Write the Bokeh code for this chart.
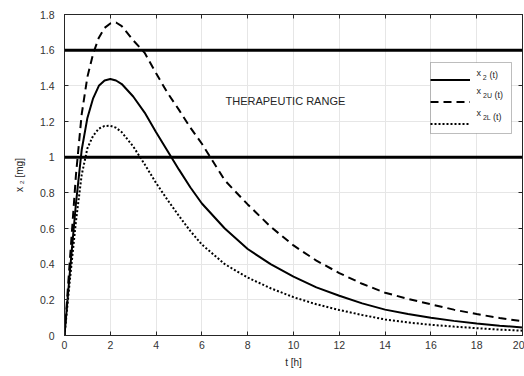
from bokeh.plotting import figure
from bokeh.models import (Range1d, FixedTicker, LinearAxis, Span, Legend,
                          LegendItem, Label, BoxAnnotation)
from bokeh.embed import file_html
from bokeh.resources import INLINE

# ---------------- data ----------------
t = [0, 0.25, 0.5, 0.75, 1, 1.25, 1.5, 1.75, 2, 2.25, 2.5, 3, 3.5, 4, 4.5,
     5, 5.5, 6, 7, 8, 9, 10, 11, 12, 13, 14, 15, 16, 17, 18, 19, 20]
x2 = [0, 0.38, 0.74, 1.04, 1.22, 1.33, 1.40, 1.43, 1.438, 1.43, 1.41, 1.34,
      1.25, 1.14, 1.035, 0.93, 0.83, 0.74, 0.60, 0.485, 0.40, 0.33, 0.27,
      0.223, 0.18, 0.145, 0.12, 0.10, 0.082, 0.067, 0.055, 0.045]
x2U = [0, 0.45, 0.90, 1.24, 1.45, 1.58, 1.67, 1.725, 1.75, 1.755, 1.735,
       1.655, 1.585, 1.47, 1.36, 1.265, 1.165, 1.075, 0.87, 0.735, 0.61,
       0.505, 0.42, 0.35, 0.29, 0.24, 0.205, 0.175, 0.145, 0.12, 0.098, 0.08]
x2L = [0, 0.33, 0.64, 0.90, 1.05, 1.12, 1.16, 1.175, 1.176, 1.165, 1.14,
       1.06, 0.96, 0.855, 0.76, 0.67, 0.585, 0.51, 0.40, 0.325, 0.265, 0.215,
       0.175, 0.143, 0.115, 0.09, 0.073, 0.06, 0.05, 0.041, 0.033, 0.027]

x_ticks = [0, 2, 4, 6, 8, 10, 12, 14, 16, 18, 20]
y_ticks = [0, 0.2, 0.4, 0.6, 0.8, 1, 1.2, 1.4, 1.6, 1.8]
y_tick_labels = ["0", "0.2", "0.4", "0.6", "0.8", "1", "1.2", "1.4", "1.6", "1.8"]
therapeutic_limits = [1, 1.6]
range_label = "THERAPEUTIC RANGE"
legend_main = ["x", "x", "x"]
legend_sub = ["2", "2U", "2L"]
legend_tail = ["(t)", "(t)", "(t)"]

# ---------------- styling ----------------
FONT = "Liberation Sans"
AX = "#262626"
TICKC = "#333333"

p = figure(width=524, height=376, x_range=Range1d(0, 20), y_range=Range1d(0, 1.8),
           output_backend="svg", toolbar_location=None,
           min_border_left=64, min_border_right=2, min_border_top=14,
           min_border_bottom=41, background_fill_color="white")

p.outline_line_color = AX
p.outline_line_width = 1

for ax in (p.xaxis[0], p.yaxis[0]):
    ax.major_tick_in = 4
    ax.major_tick_out = 0
    ax.minor_tick_line_color = None
    ax.axis_line_color = AX
    ax.major_tick_line_color = AX
    ax.major_label_text_font = FONT
    ax.major_label_text_font_size = "10.5px"
    ax.major_label_text_color = TICKC
    ax.axis_label_text_font = FONT
    ax.axis_label_text_font_size = "10px"
    ax.axis_label_text_font_style = "normal"
    ax.axis_label_text_color = AX

p.xaxis.ticker = FixedTicker(ticks=x_ticks)
p.yaxis.ticker = FixedTicker(ticks=y_ticks)
p.yaxis.major_label_overrides = dict(zip(y_ticks, y_tick_labels))
p.xaxis.major_label_standoff = 5
p.yaxis.major_label_standoff = 10
p.xaxis.axis_label = "t [h]"
p.yaxis.axis_label = "x \u2082 [mg]"
p.xaxis.axis_label_standoff = 5
p.yaxis.axis_label_standoff = 12

for loc, ticks in (("above", x_ticks), ("right", y_ticks)):
    ax = LinearAxis(ticker=FixedTicker(ticks=ticks), major_tick_in=4, major_tick_out=0,
                    minor_tick_line_color=None, axis_line_color=AX,
                    major_tick_line_color=AX, major_label_text_font_size="0px",
                    major_label_text_color=None, major_label_standoff=0)
    p.add_layout(ax, loc)

p.xgrid.grid_line_color = "#e6e6e6"
p.ygrid.grid_line_color = "#e6e6e6"

for lim in therapeutic_limits:
    p.add_layout(Span(location=lim, dimension="width", line_color="black",
                      line_width=3))

r1 = p.line(t, x2, line_color="black", line_width=2)
r2 = p.line(t, x2U, line_color="black", line_width=2, line_dash="8 5")
r3 = p.line(t, x2L, line_color="black", line_width=2, line_dash="2 2")

p.add_layout(Label(x=7.03, y=1.316, text=range_label, text_font=FONT,
                   text_font_size="11px", text_baseline="middle",
                   text_color=AX))

# legend box (screen px, relative to the frame's bottom-left corner)
LEG_LEFT, LEG_BOTTOM, LEG_W, LEG_H = 366, 202, 81, 71
LEG_TOP = LEG_BOTTOM + LEG_H
p.add_layout(BoxAnnotation(left=LEG_LEFT, right=LEG_LEFT + LEG_W,
                           bottom=LEG_BOTTOM, top=LEG_TOP,
                           left_units="screen", right_units="screen",
                           bottom_units="screen", top_units="screen",
                           fill_color="white", fill_alpha=1,
                           line_color=AX, line_width=1))

legend = Legend(items=[LegendItem(label=" ", renderers=[r]) for r in (r1, r2, r3)],
                location=(LEG_LEFT, LEG_BOTTOM), padding=4, spacing=3, glyph_width=40,
                glyph_height=19, label_height=19, label_width=28,
                label_standoff=5, border_line_color=None,
                background_fill_alpha=0, margin=0, label_text_font_size="7px")
p.add_layout(legend)

# legend texts (offsets in px from the legend box's top-left corner)
row_dy_main = [10.0, 28.5, 50.0]
row_dy_sub = [14.6, 33.0, 54.6]
row_dy_tail = [12.6, 32.0, 54.0]
dx_main = 48.3
dx_sub = [54.3, 57.0, 56.3]
dx_tail = [63.3, 68.3, 66.7]
for i in range(3):
    for txt, dx, dy, fs in ((legend_main[i], dx_main, row_dy_main[i], "9px"),
                            (legend_sub[i], dx_sub[i], row_dy_sub[i], "7px"),
                            (legend_tail[i], dx_tail[i], row_dy_tail[i], "9px")):
        p.add_layout(Label(x=LEG_LEFT + dx, y=LEG_TOP - dy, x_units="screen",
                           y_units="screen", text=txt, text_font=FONT,
                           text_font_size=fs, text_align="center",
                           text_baseline="middle", text_color=AX))

open("out.html", "w").write(file_html(p, INLINE))
